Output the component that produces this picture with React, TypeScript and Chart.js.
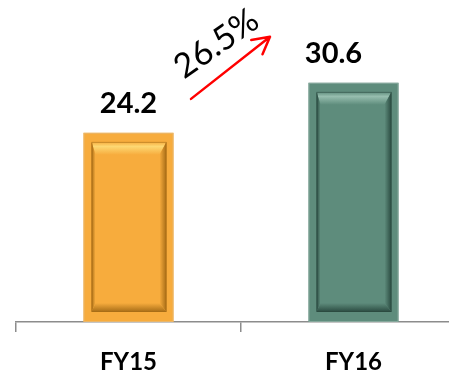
import React, { useEffect, useRef } from "react";
import { Chart, registerables } from "chart.js";

Chart.register(...registerables);

const categories = ["FY15", "FY16"];
const values = [24.2, 30.6];
const valueLabels = ["24.2", "30.6"];
const growthLabel = "26.5%";
const barColors = ["#F7AC3D", "#5E8C7C"];
const highlightColors = ["#FDD873", "#97BEAF"];
const shadowColors = ["#A66C16", "#2A4A40"];
const edgeColors = ["#E9B66A", "#86A89C"];
const labelShift = [0, -20];
const yMax = 41.2;

const bevelPlugin = {
  id: "bevel",
  afterDatasetsDraw(chart: any) {
    const ctx = chart.ctx;
    const meta = chart.getDatasetMeta(0);
    meta.data.forEach((bar: any, i: number) => {
      const p = bar.getProps(["x", "y", "base", "width"], true);
      const L = p.x - p.width / 2;
      const R = p.x + p.width / 2;
      const T = p.y;
      const B = p.base;
      ctx.save();
      ctx.strokeStyle = edgeColors[i];
      ctx.lineWidth = 1;
      ctx.strokeRect(L + 0.5, T + 0.5, R - L - 1, B - T - 1);
      const il = L + 8, ir = R - 7, it = T + 9, ib = B - 10;
      const bt = 13, bl = 4, br = 7, bb = 9;
      let g = ctx.createLinearGradient(0, it, 0, it + bt);
      g.addColorStop(0, barColors[i]);
      g.addColorStop(0.35, highlightColors[i]);
      g.addColorStop(1, barColors[i]);
      ctx.fillStyle = g;
      ctx.beginPath();
      ctx.moveTo(il, it);
      ctx.lineTo(ir, it);
      ctx.lineTo(ir - br, it + bt);
      ctx.lineTo(il + bl, it + bt);
      ctx.closePath();
      ctx.fill();
      g = ctx.createLinearGradient(il, 0, il + bl, 0);
      g.addColorStop(0, shadowColors[i]);
      g.addColorStop(1, barColors[i]);
      ctx.fillStyle = g;
      ctx.beginPath();
      ctx.moveTo(il, it);
      ctx.lineTo(il + bl, it + bt);
      ctx.lineTo(il + bl, ib - bb);
      ctx.lineTo(il, ib);
      ctx.closePath();
      ctx.fill();
      g = ctx.createLinearGradient(ir - br, 0, ir, 0);
      g.addColorStop(0, barColors[i]);
      g.addColorStop(1, shadowColors[i]);
      ctx.fillStyle = g;
      ctx.beginPath();
      ctx.moveTo(ir, it);
      ctx.lineTo(ir, ib);
      ctx.lineTo(ir - br, ib - bb);
      ctx.lineTo(ir - br, it + bt);
      ctx.closePath();
      ctx.fill();
      g = ctx.createLinearGradient(0, ib - bb, 0, ib);
      g.addColorStop(0, barColors[i]);
      g.addColorStop(1, shadowColors[i]);
      ctx.fillStyle = g;
      ctx.beginPath();
      ctx.moveTo(il, ib);
      ctx.lineTo(ir, ib);
      ctx.lineTo(ir - br, ib - bb);
      ctx.lineTo(il + bl, ib - bb);
      ctx.closePath();
      ctx.fill();
      ctx.strokeStyle = shadowColors[i];
      ctx.globalAlpha = 0.6;
      ctx.strokeRect(il + 0.5, it + 0.5, ir - il - 1, ib - it - 1);
      ctx.restore();
    });
  },
};

const labelPlugin = {
  id: "labels",
  afterDraw(chart: any) {
    const ctx = chart.ctx;
    const meta = chart.getDatasetMeta(0);
    const xs = chart.scales.x;
    const ys = chart.scales.y;
    ctx.save();
    ctx.fillStyle = "#000";
    ctx.font = "bold 29px Lato";
    ctx.textAlign = "center";
    ctx.textBaseline = "alphabetic";
    meta.data.forEach((bar: any, i: number) => {
      ctx.fillText(valueLabels[i], bar.x + labelShift[i], bar.y - 20);
    });
    const xm = (xs.getPixelForValue(0) + xs.getPixelForValue(1)) / 2;
    const y0 = ys.getPixelForValue(values[0]);
    const y1 = ys.getPixelForValue(values[1]);
    const sx = xm - 50, sy = y0 - 34;
    const ex = xm + 29, ey = y1 - 46;
    ctx.strokeStyle = "#FF0000";
    ctx.lineWidth = 2.5;
    ctx.lineCap = "round";
    ctx.beginPath();
    ctx.moveTo(sx, sy);
    ctx.lineTo(ex, ey);
    const ang = Math.atan2(ey - sy, ex - sx);
    const hl = 19;
    for (const d of [0.5, -0.5]) {
      ctx.moveTo(ex, ey);
      ctx.lineTo(ex - hl * Math.cos(ang + d), ey - hl * Math.sin(ang + d));
    }
    ctx.stroke();
    ctx.translate(xm - 57, y0 - 53);
    ctx.rotate((-35 * Math.PI) / 180);
    ctx.font = "34px Lato";
    ctx.textAlign = "left";
    ctx.fillStyle = "#000";
    ctx.fillText(growthLabel, 0, 0);
    ctx.restore();
  },
};

export default function App() {
  const ref = useRef<HTMLCanvasElement>(null);
  useEffect(() => {
    if (!ref.current) return;
    const chart = new Chart(ref.current, {
      type: "bar",
      data: {
        labels: categories,
        datasets: [
          {
            data: values,
            backgroundColor: barColors,
            borderWidth: 0,
            barPercentage: 0.8,
            categoryPercentage: 0.5,
          },
        ],
      },
      options: {
        responsive: false,
        animation: false,
        layout: { padding: { left: 16, right: 4, top: 0, bottom: 0 } },
        plugins: { legend: { display: false }, tooltip: { enabled: false } },
        scales: {
          x: {
            afterFit(scale: any) {
              scale.height = 58;
            },
            grid: {
              display: true,
              drawOnChartArea: false,
              drawTicks: true,
              tickLength: 10,
              color: "#8C8C8C",
              lineWidth: 1.5,
              offset: true,
            },
            border: { display: true, color: "#8C8C8C", width: 1.5 },
            ticks: {
              color: "#000",
              font: { family: "Lato", size: 24, weight: "bold" },
              padding: 16,
            },
          },
          y: { display: false, min: 0, max: yMax },
        },
      },
      plugins: [bevelPlugin, labelPlugin],
    });
    return () => chart.destroy();
  }, []);
  return (
    <div
      style={{
        position: "fixed",
        left: 0,
        top: 0,
        width: 449,
        height: 371,
        overflow: "hidden",
        background: "#fff",
      }}
    >
      <canvas ref={ref} width={470} height={380} />
    </div>
  );
}
